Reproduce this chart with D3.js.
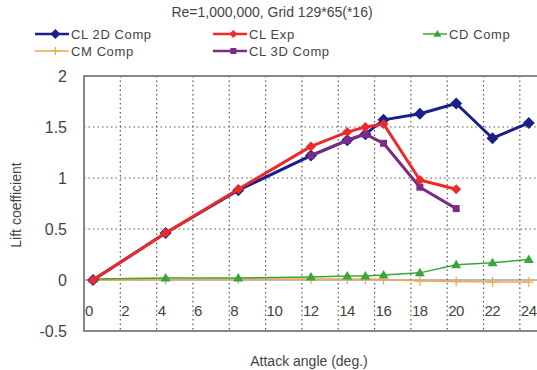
<!DOCTYPE html>
<html>
<head>
<meta charset="utf-8">
<script src="https://cdn.jsdelivr.net/npm/d3@7"></script>
<style>
  body { margin: 0; background: #fff; }
  text { font-family: "Liberation Sans", Arial, sans-serif; fill: #444; }
</style>
</head>
<body>
<div id="chart"></div>
<script>
// data
var angles2D = [0, 4, 8, 12, 14, 15, 16, 18, 20, 22, 24];
var cl2D     = [0, 0.46, 0.88, 1.22, 1.37, 1.43, 1.57, 1.63, 1.73, 1.39, 1.54];

var anglesExp = [0, 4, 8, 12, 14, 15, 16, 18, 20];
var clExp     = [0, 0.46, 0.89, 1.31, 1.45, 1.50, 1.53, 0.98, 0.89];

var anglesCD = [0, 4, 8, 12, 14, 15, 16, 18, 20, 22, 24];
var cdComp   = [0.01, 0.02, 0.02, 0.03, 0.04, 0.04, 0.05, 0.07, 0.15, 0.17, 0.20];

var anglesCM = [0, 4, 8, 12, 14, 15, 16, 18, 20, 22, 24];
var cmComp   = [0, 0.005, 0.01, 0.01, 0.01, 0.01, 0.005, -0.01, -0.015, -0.02, -0.02];

var angles3D = [12, 14, 15, 16, 18, 20];
var cl3D     = [1.22, 1.37, 1.43, 1.34, 0.91, 0.70];

var xTicks = [0, 2, 4, 6, 8, 10, 12, 14, 16, 18, 20, 22, 24];
var yTicks = [-0.5, 0, 0.5, 1, 1.5, 2];
var yTickLabels = ["-0.5", "0", "0.5", "1", "1.5", "2"];

var title = "Re=1,000,000, Grid 129*65(*16)";

var width = 537, height = 370;

var svg = d3.select("#chart").append("svg")
  .attr("width", width)
  .attr("height", height);

// scales
var x = d3.scaleLinear().domain([0, 25]).range([93, 547]);
var y = d3.scaleLinear().domain([-0.5, 2]).range([331, 76]);
var gridShift = -9; // grid in the scan sits a bit left of the points

var plotLeft = x(0) + gridShift, plotRight = x(25) + gridShift;

// grid
var grid = svg.append("g");
grid.selectAll(".vg").data(xTicks.slice(1)).enter().append("line")
  .attr("x1", function(d) { return x(d) + gridShift; })
  .attr("x2", function(d) { return x(d) + gridShift; })
  .attr("y1", y(2)).attr("y2", y(-0.5))
  .attr("stroke", "#555").attr("stroke-width", 1.2)
  .attr("stroke-dasharray", "1.5,3");
grid.selectAll(".hg").data([0.5, 1, 1.5]).enter().append("line")
  .attr("x1", plotLeft).attr("x2", plotRight)
  .attr("y1", function(d) { return y(d); })
  .attr("y2", function(d) { return y(d); })
  .attr("stroke", "#555").attr("stroke-width", 1.2)
  .attr("stroke-dasharray", "1.5,3");
grid.append("line")
  .attr("x1", plotLeft).attr("x2", plotRight)
  .attr("y1", y(0)).attr("y2", y(0))
  .attr("stroke", "#777").attr("stroke-width", 1);

// frame
svg.append("rect")
  .attr("x", plotLeft).attr("y", y(2))
  .attr("width", plotRight - plotLeft).attr("height", y(-0.5) - y(2))
  .attr("fill", "none").attr("stroke", "#888").attr("stroke-width", 2);

// x tick labels sit inside the plot, just under zero
svg.selectAll(".xl").data(xTicks).enter().append("text")
  .attr("x", function(d) { return x(d) + gridShift + 1; })
  .attr("y", 316)
  .attr("font-size", 15)
  .attr("letter-spacing", -0.5)
  .attr("fill", "#555")
  .text(function(d) { return d; });

// y tick labels
svg.selectAll(".yl").data(yTicks).enter().append("text")
  .attr("x", 67)
  .attr("y", function(d) { return y(d) + 6; })
  .attr("text-anchor", "end")
  .attr("font-size", 16)
  .attr("fill", "#555")
  .text(function(d, i) { return yTickLabels[i]; });

// axis titles
svg.append("text")
  .attr("transform", "translate(21,205) rotate(-90)")
  .attr("text-anchor", "middle")
  .attr("font-size", 14)
  .text("Lift coefficient");
svg.append("text")
  .attr("x", 309).attr("y", 366)
  .attr("text-anchor", "middle")
  .attr("font-size", 14)
  .text("Attack angle (deg.)");

svg.append("text")
  .attr("x", 272).attr("y", 17)
  .attr("text-anchor", "middle")
  .attr("font-size", 14)
  .text(title);

// series
var series = [
  {name: "CM Comp", xs: anglesCM, ys: cmComp, color: "#f5a64a", width: 1.5, marker: "plus", size: 5},
  {name: "CD Comp", xs: anglesCD, ys: cdComp, color: "#3aa53a", width: 1.5, marker: "tri", size: 5},
  {name: "CL 2D Comp", xs: angles2D, ys: cl2D, color: "#1c1f8a", width: 3, marker: "diamond", size: 6},
  {name: "CL 3D Comp", xs: angles3D, ys: cl3D, color: "#7a2c86", width: 3, marker: "square", size: 5},
  {name: "CL Exp", xs: anglesExp, ys: clExp, color: "#ec2a2a", width: 3, marker: "diamond", size: 5}
];

var line = d3.line()
  .x(function(d) { return x(d[0]); })
  .y(function(d) { return y(d[1]); });

function drawMarker(g, type, size, color) {
  if (type == "diamond") {
    g.append("path").attr("d", "M0," + (-size) + "L" + size + ",0L0," + size + "L" + (-size) + ",0Z").attr("fill", color);
  } else if (type == "square") {
    g.append("rect").attr("x", -size / 2 - 1).attr("y", -size / 2 - 1).attr("width", size + 2).attr("height", size + 2).attr("fill", color);
  } else if (type == "tri") {
    g.append("path").attr("d", "M0," + (-size) + "L" + size + "," + (size * 0.7) + "L" + (-size) + "," + (size * 0.7) + "Z").attr("fill", color);
  } else {
    g.append("path").attr("d", "M" + (-size) + ",0H" + size + "M0," + (-size) + "V" + size).attr("stroke", color).attr("stroke-width", 1.2);
  }
}

series.forEach(function(s) {
  var pts = s.xs.map(function(a, i) { return [a, s.ys[i]]; });
  svg.append("path")
    .datum(pts)
    .attr("d", line)
    .attr("fill", "none")
    .attr("stroke", s.color)
    .attr("stroke-width", s.width)
    .attr("stroke-linejoin", "round");
  pts.forEach(function(p) {
    var g = svg.append("g").attr("transform", "translate(" + x(p[0]) + "," + y(p[1]) + ")");
    drawMarker(g, s.marker, s.size, s.color);
  });
});

// legend
var legendItems = [
  {name: "CL 2D Comp", lx: 35, ly: 34},
  {name: "CL Exp", lx: 213, ly: 34},
  {name: "CD Comp", lx: 423, ly: 34},
  {name: "CM Comp", lx: 35, ly: 51},
  {name: "CL 3D Comp", lx: 213, ly: 51}
];

legendItems.forEach(function(li) {
  var s = series.filter(function(d) { return d.name == li.name; })[0];
  var len = li.name == "CD Comp" ? 24 : 34;
  var g = svg.append("g");
  g.append("line")
    .attr("x1", li.lx).attr("x2", li.lx + len)
    .attr("y1", li.ly).attr("y2", li.ly)
    .attr("stroke", s.color).attr("stroke-width", s.width > 2 ? 2.5 : 1.5);
  var m = g.append("g").attr("transform", "translate(" + (li.lx + len * 0.6) + "," + li.ly + ")");
  drawMarker(m, s.marker, s.size - 1, s.color);
  g.append("text")
    .attr("x", li.lx + len + 2).attr("y", li.ly + 5)
    .attr("font-size", 13)
    .attr("letter-spacing", 0.6)
    .text(li.name);
});
</script>
</body>
</html>
